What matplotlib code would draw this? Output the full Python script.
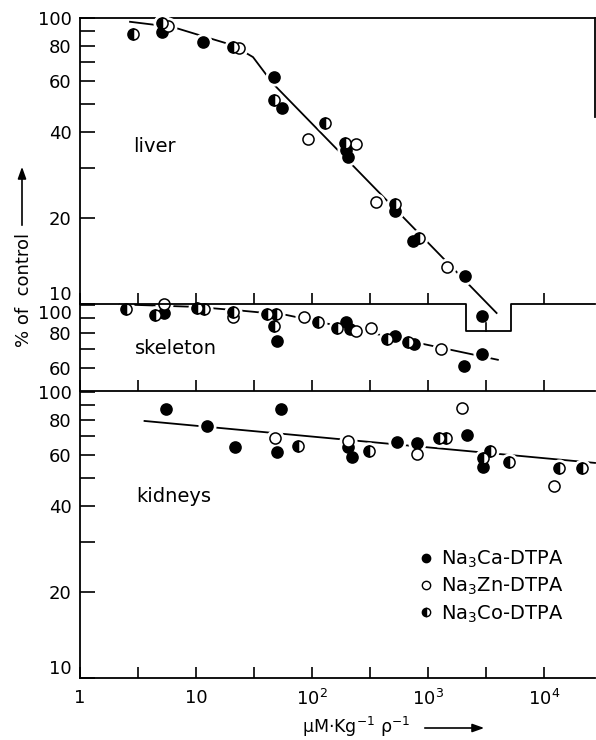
import matplotlib
matplotlib.use('Agg')
import matplotlib.pyplot as plt
from matplotlib.ticker import FixedLocator, NullFormatter, FixedFormatter
from matplotlib.lines import Line2D

plt.rcParams['font.family'] = ['DejaVu Sans']
plt.rcParams['mathtext.fontset'] = 'dejavusans'

# liver (% of control)
liver_ca_x = [5.1, 11.5, 47, 55, 195, 204, 520, 745, 2090, 2940]
liver_ca_y = [89, 82.4, 62, 48.5, 34.6, 32.6, 21.2, 16.6, 12.5, 9.1]
liver_zn_x = [5.7, 23.5, 93, 239, 355, 1450]
liver_zn_y = [94, 78.6, 37.7, 36.3, 22.7, 13.5]
liver_co_x = [2.86, 5.1, 20.9, 47, 129, 192, 520, 840]
liver_co_y = [88, 96, 79, 51.5, 43, 36.6, 22.3, 17]
liver_fit_x = [2.7, 6.3, 10.8, 20.8, 31, 46, 3900]
liver_fit_y = [97, 93, 87, 80.3, 73, 59, 9.3]

# skeleton
skel_ca_x = [5.3, 49.8, 196, 212, 520, 760, 2040, 2930]
skel_ca_y = [93.8, 74.8, 87.2, 82.4, 77.9, 73, 61.2, 67.4]
skel_zn_x = [5.3, 21, 85, 239, 322, 1290]
skel_zn_y = [100.8, 90.8, 90.8, 81, 83, 70.2]
skel_co_x = [2.5, 4.4, 10.2, 11.7, 20.8, 40.9, 49, 47, 113, 164, 445, 675]
skel_co_y = [96.8, 92.3, 97.6, 96.8, 94.5, 93, 93, 84.5, 87.2, 83, 76.1, 74.2]
skel_fit_x = [2.2, 10, 25, 60, 4000]
skel_fit_y = [100.5, 98.5, 95.5, 92.3, 64.3]

# kidneys
kid_ca_x = [5.5, 12.4, 21.7, 50, 54, 204, 220, 540, 800, 2180, 3000]
kid_ca_y = [87.2, 76.1, 64.3, 61.7, 87.2, 64.3, 59.2, 66.9, 66.3, 70.7, 54.7]
kid_zn_x = [48, 204, 800, 1960, 12200]
kid_zn_y = [69, 67.4, 60.7, 87.9, 46.9]
kid_co_x = [76, 310, 1240, 1430, 3000, 3400, 5000, 13400, 21200]
kid_co_y = [64.7, 62.2, 69, 69, 58.8, 62.2, 56.9, 54.2, 54.2]
kid_fit_x = [3.6, 27500]
kid_fit_y = [79.2, 56.5]

labels = ['Na$_3$Ca-DTPA', 'Na$_3$Zn-DTPA', 'Na$_3$Co-DTPA']
xticks = [1, 10, 100, 1000, 10000]
xticklabels = ['1', '10', '$10^2$', '$10^3$', '$10^4$']

ca_style = dict(marker='o', ls='none', mfc='k', mec='k')
zn_style = dict(marker='o', ls='none', mfc='white', mec='k')
co_style = dict(marker='o', ls='none', mfc='k', mfcalt='white', mec='k', fillstyle='left')

W, H = 596, 740
fig = plt.figure(figsize=(W / 100, H / 100), dpi=100)

def px_axes(top, bottom):
    return fig.add_axes([80 / W, 1 - bottom / H, 515 / W, (bottom - top) / H])

ax_l = px_axes(18, 304)
ax_s = px_axes(305, 391)
ax_k = px_axes(392, 678)
ax_l.set_zorder(3)
ax_s.set_zorder(2)


def draw_panel(ax, ca, zn, co, fit, ylim, ymaj, ylab, ymin):
    ax.patch.set_visible(False)
    ax.set_xscale('log')
    ax.set_yscale('log')
    ax.set_xlim(1, 27500)
    ax.set_ylim(*ylim)
    ax.plot(fit[0], fit[1], color='k', lw=1.3, zorder=2, clip_on=False)
    for d in (ca, zn, co):
        ax.plot(d[0], d[1], 'o', ms=12, mfc='white', mec='white', zorder=3, clip_on=False)
    ax.plot(ca[0], ca[1], ms=8, mew=1.1, zorder=4, clip_on=False, **ca_style)
    ax.plot(zn[0], zn[1], ms=8, mew=1.1, zorder=4, clip_on=False, **zn_style)
    ax.plot(co[0], co[1], ms=8, mew=1.1, zorder=4, clip_on=False, **co_style)
    ax.xaxis.set_major_locator(FixedLocator(xticks))
    ax.xaxis.set_minor_locator(FixedLocator([10 ** 0.5, 10 ** 1.5, 10 ** 2.5, 10 ** 3.5, 10 ** 4.5]))
    ax.xaxis.set_minor_formatter(NullFormatter())
    ax.yaxis.set_major_locator(FixedLocator(ymaj))
    ax.yaxis.set_major_formatter(FixedFormatter(ylab))
    ax.yaxis.set_minor_locator(FixedLocator(ymin))
    ax.yaxis.set_minor_formatter(NullFormatter())
    ax.tick_params(which='both', direction='in', width=1.2, labelsize=13, top=False, right=False)
    ax.tick_params(axis='x', which='both', length=8, pad=8)
    ax.tick_params(axis='y', which='both', length=11, pad=6)
    for s in ax.spines.values():
        s.set_linewidth(1.3)
    ax.spines['right'].set_visible(False)
    ax.spines['top'].set_visible(False)


draw_panel(ax_l, (liver_ca_x, liver_ca_y), (liver_zn_x, liver_zn_y), (liver_co_x, liver_co_y),
           (liver_fit_x, liver_fit_y), (10, 100), [10, 20, 40, 60, 80, 100],
           ['10', '20', '40', '60', '80', '100'], [30, 50, 70, 90])
draw_panel(ax_s, (skel_ca_x, skel_ca_y), (skel_zn_x, skel_zn_y), (skel_co_x, skel_co_y),
           (skel_fit_x, skel_fit_y), (50, 100), [60, 80, 100], ['60', '80', '100'], [70, 90])
draw_panel(ax_k, (kid_ca_x, kid_ca_y), (kid_zn_x, kid_zn_y), (kid_co_x, kid_co_y),
           (kid_fit_x, kid_fit_y), (10, 100), [10, 20, 40, 60, 80, 100],
           ['10', '20', '40', '60', '80', '100'], [30, 50, 70, 90])

# liver frame: top, partial right, bottom with notch
ax_l.spines['top'].set_visible(True)
ax_l.spines['right'].set_visible(True)
ax_l.spines['right'].set_bounds(45, 100)
ax_l.spines['bottom'].set_visible(False)
ax_l.plot([1, 2130, 2130, 5200, 5200, 27500], [10, 10, 8.05, 8.05, 10, 10],
          color='k', lw=1.3, clip_on=False, zorder=5)
ax_l.plot([10 ** 3.5, 10 ** 3.5], [8.05, 8.6], color='k', lw=1.2, clip_on=False, zorder=5)
ax_l.xaxis.set_minor_locator(FixedLocator([10 ** 0.5, 10 ** 1.5, 10 ** 2.5]))
ax_l.tick_params(axis='x', labelbottom=False)
ax_s.tick_params(axis='x', labelbottom=False)
ax_k.xaxis.set_major_formatter(FixedFormatter(xticklabels))

ax_l.get_yticklabels()[0].set_va('bottom')
ax_s.get_yticklabels()[-1].set_va('top')
ax_k.get_yticklabels()[0].set_va('bottom')

ax_l.text(0.103, 0.549, 'liver', transform=ax_l.transAxes, fontsize=14, va='center')
ax_s.text(0.107, 0.5, 'skeleton', transform=ax_s.transAxes, fontsize=14, va='center')
ax_k.text(0.109, 0.633, 'kidneys', transform=ax_k.transAxes, fontsize=14, va='center')

handles = [Line2D([], [], ms=6, mew=1, **ca_style),
           Line2D([], [], ms=6, mew=1, **zn_style),
           Line2D([], [], ms=6, mew=1, **co_style)]
fig.legend(handles, labels, loc='upper left', bbox_to_anchor=(418 / W, 1 - 549 / H),
           frameon=False, fontsize=14, handlelength=0.8, handletextpad=0.4,
           borderpad=0, borderaxespad=0, labelspacing=0.3)

# axis titles with arrows
fig.text(24 / W, 1 - 290 / H, '% of  control', rotation=90, fontsize=13, ha='center', va='center')
plt.annotate('', xy=(22 / W, 1 - 164 / H), xytext=(22 / W, 1 - 228 / H), xycoords='figure fraction',
             arrowprops=dict(arrowstyle='-|>,head_length=0.7,head_width=0.25', color='k', lw=1.2))
fig.text(302 / W, 1 - 727 / H, 'μM·Kg$^{-1}$ ρ$^{-1}$', fontsize=12.5, ha='left', va='center')
plt.annotate('', xy=(487 / W, 1 - 728 / H), xytext=(422 / W, 1 - 728 / H), xycoords='figure fraction',
             arrowprops=dict(arrowstyle='-|>,head_length=0.7,head_width=0.25', color='k', lw=1.2))

fig.savefig('out.png', dpi=100)
